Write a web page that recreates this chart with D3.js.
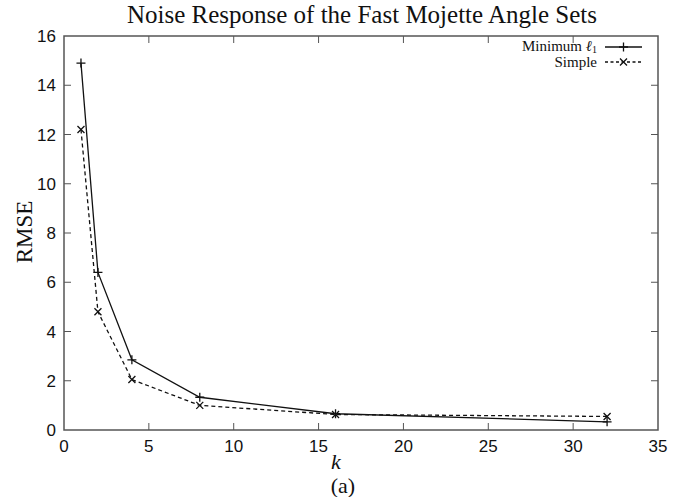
<!DOCTYPE html>
<html><head><meta charset="utf-8">
<script src="https://cdn.jsdelivr.net/npm/d3@7"></script>
<style>body{margin:0;background:#fff}</style>
</head><body>
<svg id="c" width="685" height="497"></svg>
<script>
const kValues = [1, 2, 4, 8, 16, 32];
const minL1 = [14.9, 6.4, 2.85, 1.33, 0.66, 0.33];
const simple = [12.2, 4.8, 2.05, 1.0, 0.63, 0.55];
const xTicks = [0, 5, 10, 15, 20, 25, 30, 35];
const yTicks = [0, 2, 4, 6, 8, 10, 12, 14, 16];

const svg = d3.select('#c');
const L = 64, R = 658, T = 36, B = 430;
const x = d3.scaleLinear().domain([0, 35]).range([L, R]);
const y = d3.scaleLinear().domain([0, 16]).range([B, T]);
const axisCol = '#555';
const serif = '"Liberation Serif", "DejaVu Serif", serif';
const sans = '"Liberation Sans", Arial, sans-serif';

// ticks (inward, mirrored)
const tl = 7;
const g = svg.append('g');
xTicks.forEach(t => {
  if (t === 0 || t === 35) return;
  g.append('line').attr('x1', x(t)).attr('x2', x(t)).attr('y1', B).attr('y2', B - tl).attr('stroke', axisCol);
  g.append('line').attr('x1', x(t)).attr('x2', x(t)).attr('y1', T).attr('y2', T + tl).attr('stroke', axisCol);
});
yTicks.forEach(t => {
  if (t === 0 || t === 16) return;
  g.append('line').attr('y1', y(t)).attr('y2', y(t)).attr('x1', L).attr('x2', L + tl).attr('stroke', axisCol);
  g.append('line').attr('y1', y(t)).attr('y2', y(t)).attr('x1', R).attr('x2', R - tl).attr('stroke', axisCol);
});
svg.append('rect').attr('x', L).attr('y', T).attr('width', R - L).attr('height', B - T)
  .attr('fill', 'none').attr('stroke', axisCol).attr('stroke-width', 1.5);

// tick labels
svg.selectAll('.xl').data(xTicks).enter().append('text')
  .attr('x', d => x(d)).attr('y', B + 22).attr('text-anchor', 'middle')
  .attr('font-family', sans).attr('font-size', 17).attr('fill', '#111').text(d => d);
svg.selectAll('.yl').data(yTicks).enter().append('text')
  .attr('x', L - 8).attr('y', d => y(d) + 6).attr('text-anchor', 'end')
  .attr('font-family', sans).attr('font-size', 17).attr('fill', '#111').text(d => d);

// series
const lineGen = d3.line().x(d => x(d[0])).y(d => y(d[1]));
const s1 = kValues.map((k, i) => [k, minL1[i]]);
const s2 = kValues.map((k, i) => [k, simple[i]]);
svg.append('path').attr('d', lineGen(s1)).attr('fill', 'none').attr('stroke', '#111').attr('stroke-width', 1.3);
svg.append('path').attr('d', lineGen(s2)).attr('fill', 'none').attr('stroke', '#111').attr('stroke-width', 1.3).attr('stroke-dasharray', '4,3');

function plus(px, py, s) {
  svg.append('path').attr('d', `M${px - s},${py}H${px + s}M${px},${py - s}V${py + s}`).attr('stroke', '#111').attr('stroke-width', 1.3);
}
function cross(px, py, s) {
  svg.append('path').attr('d', `M${px - s},${py - s}L${px + s},${py + s}M${px - s},${py + s}L${px + s},${py - s}`).attr('stroke', '#111').attr('stroke-width', 1.3);
}
s1.forEach(d => plus(x(d[0]), y(d[1]), 4.5));
s2.forEach(d => cross(x(d[0]), y(d[1]), 3.5));

// legend
const ly1 = 47, ly2 = 62;
svg.append('text').attr('x', 597).attr('y', ly1 + 4).attr('text-anchor', 'end')
  .attr('font-family', serif).attr('font-size', 15).attr('fill', '#111')
  .html('Minimum <tspan font-style="italic">ℓ</tspan><tspan font-size="10" dy="2">1</tspan>');
svg.append('line').attr('x1', 605).attr('x2', 642).attr('y1', ly1).attr('y2', ly1).attr('stroke', '#111').attr('stroke-width', 1.3);
plus(623.5, ly1, 4.5);
svg.append('text').attr('x', 597).attr('y', ly2 + 5).attr('text-anchor', 'end')
  .attr('font-family', serif).attr('font-size', 15).attr('fill', '#111').text('Simple');
svg.append('line').attr('x1', 605).attr('x2', 642).attr('y1', ly2).attr('y2', ly2).attr('stroke', '#111').attr('stroke-width', 1.3).attr('stroke-dasharray', '3,2.5');
cross(623.5, ly2, 3.5);

// titles
svg.append('text').attr('x', 362).attr('y', 23).attr('text-anchor', 'middle')
  .attr('font-family', serif).attr('font-size', 25).attr('fill', '#111')
  .text('Noise Response of the Fast Mojette Angle Sets');
svg.append('text').attr('transform', 'translate(32,232) rotate(-90)').attr('text-anchor', 'middle')
  .attr('font-family', serif).attr('font-size', 23).attr('fill', '#111').text('RMSE');
svg.append('text').attr('x', 336).attr('y', 469).attr('text-anchor', 'middle')
  .attr('font-family', serif).attr('font-style', 'italic').attr('font-size', 22).attr('fill', '#111').text('k');
svg.append('text').attr('x', 343).attr('y', 493).attr('text-anchor', 'middle')
  .attr('font-family', serif).attr('font-size', 22).attr('fill', '#111').text('(a)');
</script>
</body></html>
